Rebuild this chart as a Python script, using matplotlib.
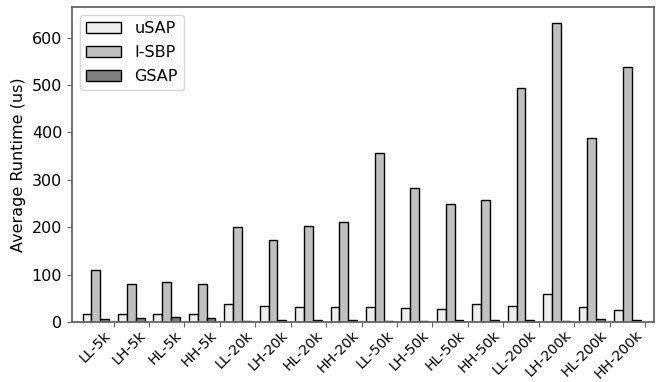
import numpy as np
import matplotlib.pyplot as plt

datasets = ['LL-5k', 'LH-5k', 'HL-5k', 'HH-5k',
            'LL-20k', 'LH-20k', 'HL-20k', 'HH-20k',
            'LL-50k', 'LH-50k', 'HL-50k', 'HH-50k',
            'LL-200k', 'LH-200k', 'HL-200k', 'HH-200k']
usap = [17.5, 16, 16, 16, 37, 34.5, 32, 32, 31, 30, 28, 39, 34.5, 60, 32.5, 25]
isbp = [109, 81, 84, 80, 199.5, 174, 203, 211, 356, 282.5, 250, 258.5, 493, 632, 389, 539]
gsap = [7, 9, 10.5, 9, 3, 3.5, 4, 4, 3, 3, 5, 5, 5, 3, 7, 5]

plt.close("all")
fig = plt.figure(figsize=(6.72, 3.82), dpi=100)
ax = fig.add_axes([0.107, 0.157, 0.866, 0.825])

x = np.arange(len(datasets))
w = 0.25
ax.bar(x - w, usap, w, color='#eeeeee', edgecolor='black', linewidth=1, label='uSAP')
ax.bar(x, isbp, w, color='#c0c0c0', edgecolor='black', linewidth=1, label='I-SBP')
ax.bar(x + w, gsap, w, color='#808080', edgecolor='black', linewidth=1, label='GSAP')

ax.set_xlim(-0.675, 15.75)
ax.set_ylim(0, 665)
ax.set_xticks(x + 0.5)
ax.set_xticklabels(datasets, rotation=45, ha='right', fontsize=10.2)
ax.set_yticks([0, 100, 200, 300, 400, 500, 600])
ax.tick_params(axis='y', labelsize=11.5)
ax.tick_params(axis='x', pad=1)
ax.tick_params(color='#666666', length=3.5)
ax.set_ylabel('Average Runtime (us)', fontsize=11.5)
for s in ax.spines.values():
    s.set_color('#666666')
    s.set_linewidth(1.3)

ax.legend(loc='upper left', fontsize=11.5, handlelength=2.2, labelspacing=0.55)
fig.savefig('out.png', dpi=100)
